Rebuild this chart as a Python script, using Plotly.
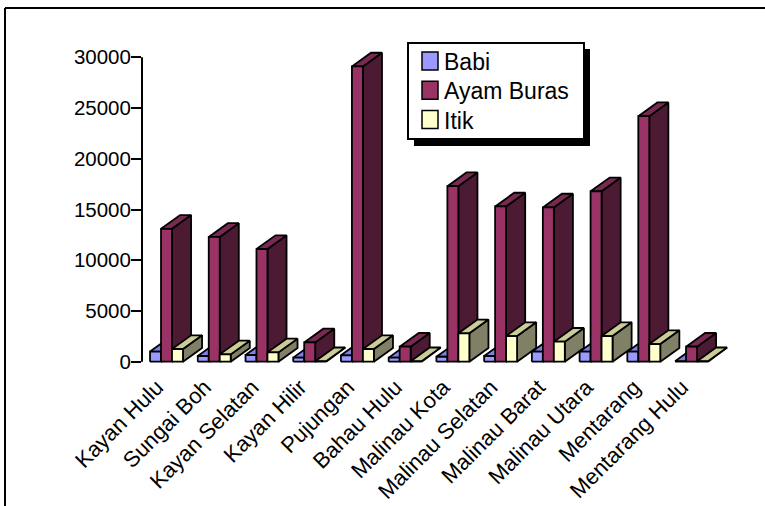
import plotly.graph_objects as go

# ---- data ----
categories = ["Kayan Hulu", "Sungai Boh", "Kayan Selatan", "Kayan Hilir", "Pujungan",
              "Bahau Hulu", "Malinau Kota", "Malinau Selatan", "Malinau Barat",
              "Malinau Utara", "Mentarang", "Mentarang Hulu"]
series_names = ["Babi", "Ayam Buras", "Itik"]
babi = [1000, 560, 660, 400, 630, 400, 490, 560, 990, 990, 990, 50]
ayam_buras = [13100, 12300, 11100, 1900, 29100, 1480, 17300, 15300, 15200, 16800, 24200, 1480]
itik = [1250, 720, 920, 50, 1250, 50, 2800, 2530, 1970, 2530, 1740, 50]
y_ticks = [0, 5000, 10000, 15000, 20000, 25000, 30000]

# ---- style ----
front_colors = ["#9999FF", "#993366", "#FFFFCC"]
top_colors = ["#8080E6", "#7A2952", "#CCCC99"]
side_colors = ["#6666CC", "#4D1A33", "#808066"]
FONT = "Liberation Sans, Arial, sans-serif"

W, H = 765, 506
PLOT_L, PLOT_R, PLOT_T, PLOT_B = 142, 740, 42, 365
PX_PER_CAT = 47.73
X0_PX = 166.5
Y0_PX, Y30K_PX = 361.7, 57.3
K = (Y0_PX - Y30K_PX) / 30000.0

x_range = [(PLOT_L - X0_PX) / PX_PER_CAT, (PLOT_R - X0_PX) / PX_PER_CAT]
y_range = [(Y0_PX - PLOT_B) / K, (Y0_PX - PLOT_T) / K]

BAR_W = 0.23
DEPTH_X = 0.40
DEPTH_Y = 1350
LABEL_SHIFT = -0.2

def paper_x(px):
    return (px - PLOT_L) / (PLOT_R - PLOT_L)

def paper_y(py):
    return (PLOT_B - py) / (PLOT_B - PLOT_T)

fig = go.Figure()

def poly(xs, ys, color):
    fig.add_trace(go.Scatter(
        x=xs + [xs[0]], y=ys + [ys[0]], mode="lines", fill="toself",
        fillcolor=color, line=dict(color="black", width=1.8),
        hoverinfo="skip", showlegend=False))

values = [babi, ayam_buras, itik]
for i, _ in enumerate(categories):
    for s in range(3):
        v = values[s][i]
        x0 = i - 1.5 * BAR_W + s * BAR_W
        x1 = x0 + BAR_W
        # side face
        poly([x1, x1 + DEPTH_X, x1 + DEPTH_X, x1], [0, DEPTH_Y, v + DEPTH_Y, v], side_colors[s])
        # top face
        poly([x0, x1, x1 + DEPTH_X, x0 + DEPTH_X], [v, v, v + DEPTH_Y, v + DEPTH_Y], top_colors[s])
        # front face
        poly([x0, x1, x1, x0], [0, 0, v, v], front_colors[s])

shapes = [
    # y axis line
    dict(type="line", xref="paper", yref="y", x0=0, x1=0, y0=0, y1=30000,
         line=dict(color="black", width=2)),
    # frame (top & left)
    dict(type="line", xref="paper", yref="paper", x0=paper_x(5), x1=paper_x(766),
         y0=paper_y(8), y1=paper_y(8), line=dict(color="black", width=2)),
    dict(type="line", xref="paper", yref="paper", x0=paper_x(5), x1=paper_x(5),
         y0=paper_y(8), y1=paper_y(510), line=dict(color="black", width=2)),
    # legend shadow + box
    dict(type="rect", xref="paper", yref="paper", x0=paper_x(414), x1=paper_x(590),
         y0=paper_y(49), y1=paper_y(146), fillcolor="black", line=dict(width=0)),
    dict(type="rect", xref="paper", yref="paper", x0=paper_x(408), x1=paper_x(584),
         y0=paper_y(43), y1=paper_y(139), fillcolor="white", line=dict(color="black", width=2)),
]
annotations = []
LEG_ROW0, LEG_STEP = 61, 29.3
for s, name in enumerate(series_names):
    cy = LEG_ROW0 + s * LEG_STEP
    shapes.append(dict(type="rect", xref="paper", yref="paper",
                       x0=paper_x(422), x1=paper_x(438), y0=paper_y(cy - 9), y1=paper_y(cy + 9),
                       fillcolor=front_colors[s], line=dict(color="black", width=1.5)))
    annotations.append(dict(xref="paper", yref="paper", x=paper_x(442), y=paper_y(cy + 1),
                            xanchor="left", yanchor="middle", text=name, showarrow=False,
                            font=dict(size=23, family=FONT, color="black")))

fig.update_layout(
    width=W, height=H,
    margin=dict(l=PLOT_L, r=W - PLOT_R, t=PLOT_T, b=H - PLOT_B, autoexpand=False),
    paper_bgcolor="white", plot_bgcolor="white",
    font=dict(family=FONT, color="black"),
    showlegend=False,
    shapes=shapes,
    annotations=annotations,
    xaxis=dict(range=x_range, tickmode="array",
               tickvals=[i + LABEL_SHIFT for i in range(len(categories))],
               ticktext=categories, tickangle=-45, showgrid=False, zeroline=False,
               showline=False, ticks="", ticklabelstandoff=4,
               tickfont=dict(size=22, family=FONT, color="black"),
               fixedrange=True),
    yaxis=dict(range=y_range, tickmode="array", tickvals=y_ticks,
               ticktext=[str(t) for t in y_ticks], showgrid=False, zeroline=False,
               showline=False, ticks="outside", ticklen=10, tickwidth=2, tickcolor="black",
               ticklabelstandoff=-4,
               tickfont=dict(size=20.5, family=FONT, color="black"), fixedrange=True),
)

fig.write_html("out.html", config={"displayModeBar": False},
               post_script="document.body.style.margin='0px';document.body.style.overflow='hidden';")
